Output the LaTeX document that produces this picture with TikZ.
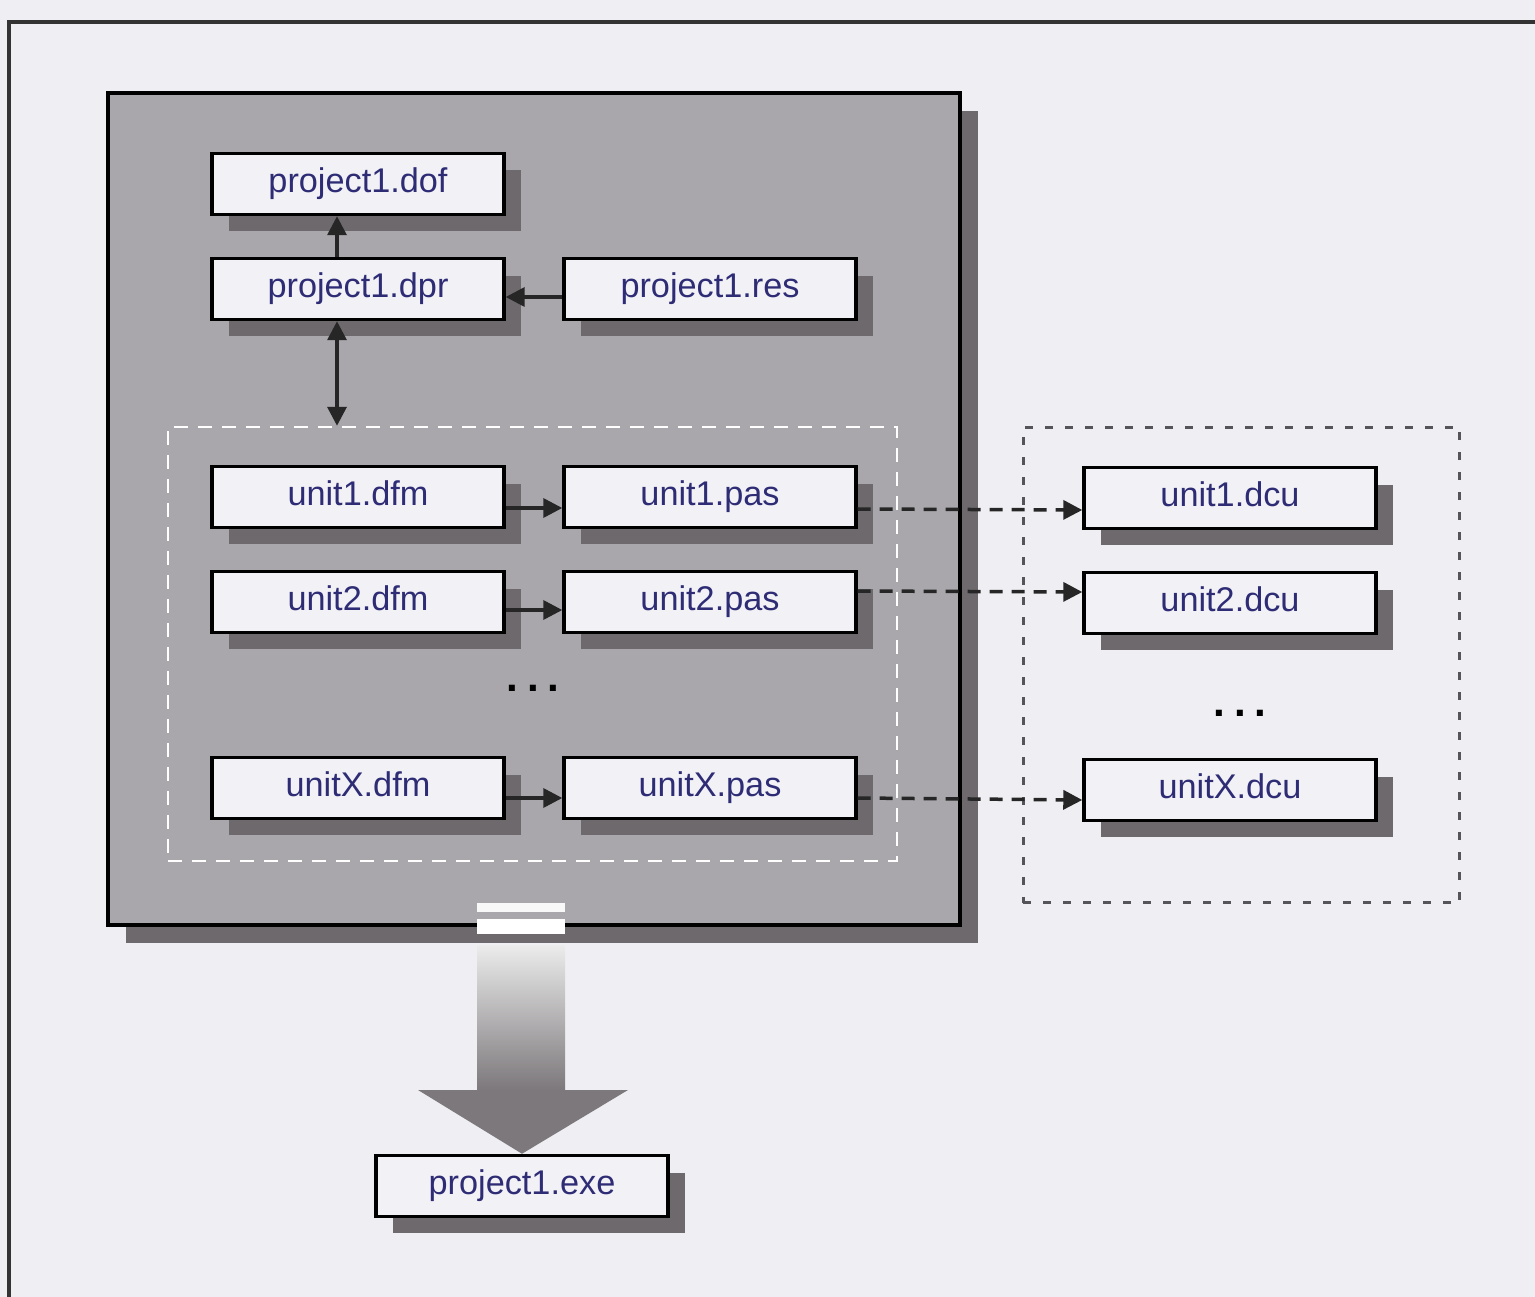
\documentclass[tikz,border=0pt]{standalone}
\usepackage{fontspec}
\setmainfont{Liberation Sans}
\usetikzlibrary{arrows.meta,shadows}
\definecolor{pagebg}{HTML}{EFEEF3}
\definecolor{maingray}{HTML}{A9A7AB}
\definecolor{shadowgray}{HTML}{6D696D}
\definecolor{boxfill}{HTML}{F2F1F6}
\definecolor{textblue}{HTML}{2E2C74}
\definecolor{dashgray}{HTML}{555458}
\definecolor{headgray}{HTML}{7C787B}
\begin{document}
\begin{tikzpicture}[x=0.02cm,y=-0.02cm,
  filebox/.style={draw=black, line width=0.07cm, fill=boxfill,
    minimum width=5.84cm, minimum height=1.22cm, inner sep=0pt,
    text height=14pt, text depth=4.5pt,
    text=textblue, font=\fontsize{19.5}{22}\selectfont,
    drop shadow={shadow xshift=0.34cm, shadow yshift=-0.34cm, fill=shadowgray, opacity=1}},
  conn/.style={line width=0.07cm, draw=black!85},
  tipend/.style={-{Triangle[length=0.38cm,width=0.38cm]}},
  bothends/.style={{Triangle[length=0.38cm,width=0.38cm]}-{Triangle[length=0.38cm,width=0.38cm]}},
  dashconn/.style={line width=0.07cm, draw=black!85, dash pattern=on 0.26cm off 0.18cm},
  dots/.style={font=\fontsize{24}{26}\selectfont\bfseries, text=black}]
\useasboundingbox (0,0) rectangle (1535,1297);
\fill[pagebg] (0,0) rectangle (1535,1297);
% outer frame
\draw[line width=0.08cm, draw=black!80] (9,1297) -- (9,22) -- (1535,22);
% main project box
\node[draw=black, line width=0.08cm, fill=maingray, minimum width=17.04cm, minimum height=16.64cm,
  drop shadow={shadow xshift=0.36cm, shadow yshift=-0.36cm, fill=shadowgray, opacity=1}] (main) at (534,509) {};
% inner dashed group
\node[draw=white, line width=0.05cm, dash pattern=on 0.28cm off 0.2cm, minimum width=14.58cm, minimum height=8.68cm] (inner) at (532.5,644) {};
% right dashed group
\node[draw=dashgray, line width=0.06cm, dash pattern=on 0.16cm off 0.24cm, minimum width=8.74cm, minimum height=9.52cm] (dcugroup) at (1241.5,665) {};
% files
\node[filebox] (dof) at (358,184) {project1.dof};
\node[filebox] (dpr) at (358,289) {project1.dpr};
\node[filebox] (res) at (710,289) {project1.res};
\node[filebox] (d1) at (358,497) {unit1.dfm};
\node[filebox] (p1) at (710,497) {unit1.pas};
\node[filebox] (d2) at (358,602) {unit2.dfm};
\node[filebox] (p2) at (710,602) {unit2.pas};
\node[filebox] (dx) at (358,788) {unitX.dfm};
\node[filebox] (px) at (710,788) {unitX.pas};
\node[filebox] (c1) at (1230,498) {unit1.dcu};
\node[filebox] (c2) at (1230,603) {unit2.dcu};
\node[filebox] (cx) at (1230,790) {unitX.dcu};
\node[filebox] (exe) at (522,1186) {project1.exe};
% dots
\node[dots] (dotsL) at (533,688) {.\hspace{5pt}.\hspace{5pt}.};
\node[dots] (dotsR) at (1240,713) {.\hspace{5pt}.\hspace{5pt}.};
% connectors
\draw[conn, tipend] ([xshift=-0.42cm]dpr.north) -- ([xshift=-0.42cm]dof.south);
\draw[conn, bothends] ([xshift=-0.42cm]dpr.south) -- ([xshift=-0.42cm]dpr.south |- inner.north);
\draw[conn, tipend] ([yshift=-0.16cm]res.west) -- ([yshift=-0.16cm]dpr.east);
\draw[conn, tipend] ([yshift=-0.22cm]d1.east) -- ([yshift=-0.22cm]p1.west);
\draw[conn, tipend] ([yshift=-0.16cm]d2.east) -- ([yshift=-0.16cm]p2.west);
\draw[conn, tipend] ([yshift=-0.2cm]dx.east) -- ([yshift=-0.2cm]px.west);
\draw[dashconn, tipend] ([yshift=-0.24cm]p1.east) -- ([yshift=-0.24cm]c1.west);
\draw[dashconn, tipend] ([yshift=0.22cm]p2.east) -- ([yshift=0.22cm]c2.west);
\draw[dashconn, tipend] ([yshift=-0.2cm]px.east) -- ([yshift=-0.2cm]cx.west);
% big build arrow
\fill[white!92!maingray] (477,903) rectangle (565,912);
\fill[white] (477,919) rectangle (565,934);
\shade[top color=white!85!gray, bottom color=headgray] (477,945) rectangle (565,1090);
\fill[headgray] (418,1090) -- (628,1090) -- (exe.north) -- cycle;
\end{tikzpicture}
\end{document}
